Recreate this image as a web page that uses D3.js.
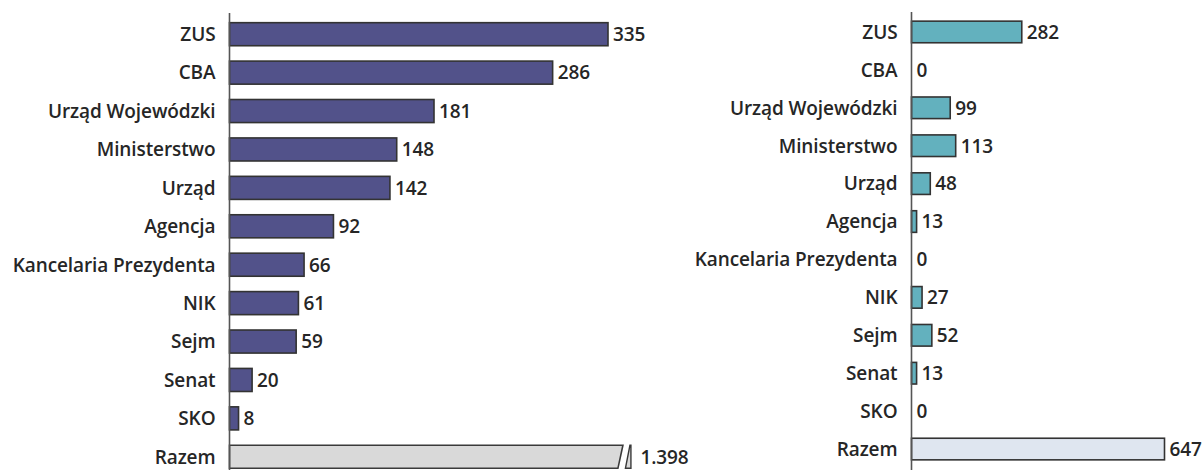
<!DOCTYPE html>
<html>
<head>
<meta charset="utf-8">
<script src="https://cdn.jsdelivr.net/npm/d3@7"></script>
<style>
  body { margin: 0; background: #fff; }
  svg { display: block; }
  .cat-label, .val-label {
    font-family: "Open Sans", "Noto Sans", sans-serif;
    font-weight: 600;
    font-size: 19px;
    fill: #262626;
    letter-spacing: -0.1px;
  }
</style>
</head>
<body>
<div id="chart"></div>
<script>
// Categories (top to bottom), last one is the total row
const categories = [
  "ZUS", "CBA", "Urząd Wojewódzki", "Ministerstwo", "Urząd", "Agencja",
  "Kancelaria Prezydenta", "NIK", "Sejm", "Senat", "SKO", "Razem"
];

// Left panel values
const leftValues = [335, 286, 181, 148, 142, 92, 66, 61, 59, 20, 8, 1398];
// Right panel values
const rightValues = [282, 0, 99, 113, 48, 13, 0, 27, 52, 13, 0, 647];

// Left total is drawn with a broken bar, cut at this value
const leftBreakAt = 346;

const totalName = "Razem";
const fmt = v => v >= 1000 ? d3.format(",")(v).replace(/,/g, ".") : String(v);

const W = 1203, H = 470;

const svg = d3.select("#chart").append("svg")
  .attr("width", W)
  .attr("height", H);

// ---- panel drawing ----
function drawPanel(opts) {
  const g = svg.append("g");

  const x = d3.scaleLinear()
    .domain(opts.domain)
    .range([opts.axisX, opts.axisX + opts.pixelWidth]);

  const y = d3.scaleBand()
    .domain(categories)
    .range(opts.yRange)
    .paddingInner(opts.padding)
    .paddingOuter(opts.padding / 2);

  const rows = categories.map((c, i) => ({ cat: c, value: opts.values[i] }));

  // bars
  rows.forEach(d => {
    const isTotal = d.cat === totalName;
    const top = y(d.cat), bot = y(d.cat) + y.bandwidth();
    const x0 = x(0);

    if (isTotal && opts.breakAt != null && d.value > opts.breakAt) {
      // broken bar with slanted end and a small sliver
      const xb = x(opts.breakAt);
      g.append("polygon")
        .attr("points", [[x0, top], [xb + 2.5, top], [xb - 2.5, bot], [x0, bot]].join(" "))
        .attr("fill", opts.totalFill)
        .attr("stroke", "#3a3a3a")
        .attr("stroke-width", 1.6);
      g.append("polygon")
        .attr("points", [[xb + 5, bot], [xb + 9.5, top], [xb + 10.5, top], [xb + 10.5, bot]].join(" "))
        .attr("fill", opts.totalFill)
        .attr("stroke", "#3a3a3a")
        .attr("stroke-width", 1.4);
      g.append("text")
        .attr("class", "val-label")
        .attr("x", xb + 20)
        .attr("y", (top + bot) / 2)
        .attr("dy", "0.36em")
        .text(fmt(d.value));
      return;
    }

    const w = x(d.value) - x0;
    if (w > 0) {
      g.append("rect")
        .attr("x", x0)
        .attr("y", top)
        .attr("width", w)
        .attr("height", y.bandwidth())
        .attr("fill", isTotal ? opts.totalFill : opts.fill)
        .attr("stroke", "#333")
        .attr("stroke-width", 1.6);
    }
    g.append("text")
      .attr("class", "val-label")
      .attr("x", x(d.value) + 5)
      .attr("y", (top + bot) / 2)
      .attr("dy", "0.36em")
      .text(fmt(d.value));
  });

  // category labels
  g.selectAll(".cat-label")
    .data(categories)
    .enter()
    .append("text")
    .attr("class", "cat-label")
    .attr("x", opts.axisX - 14)
    .attr("y", d => y(d) + y.bandwidth() / 2)
    .attr("dy", "0.36em")
    .attr("text-anchor", "end")
    .text(d => d);

  // axis line
  g.append("line")
    .attr("x1", opts.axisX).attr("x2", opts.axisX)
    .attr("y1", opts.axisTop).attr("y2", H)
    .attr("stroke", "#555")
    .attr("stroke-width", 1.6);
}

drawPanel({
  values: leftValues,
  domain: [0, 335],
  axisX: 229.5,
  pixelWidth: 378.5,
  yRange: [15, 476],
  padding: 0.4,
  axisTop: 13,
  fill: "#52528a",
  totalFill: "#d9d9d9",
  breakAt: leftBreakAt
});

drawPanel({
  values: rightValues,
  domain: [0, 647],
  axisX: 911.5,
  pixelWidth: 253,
  yRange: [13, 468],
  padding: 0.43,
  axisTop: 12,
  fill: "#63b1be",
  totalFill: "#dfe6f0",
  breakAt: null
});
</script>
</body>
</html>
